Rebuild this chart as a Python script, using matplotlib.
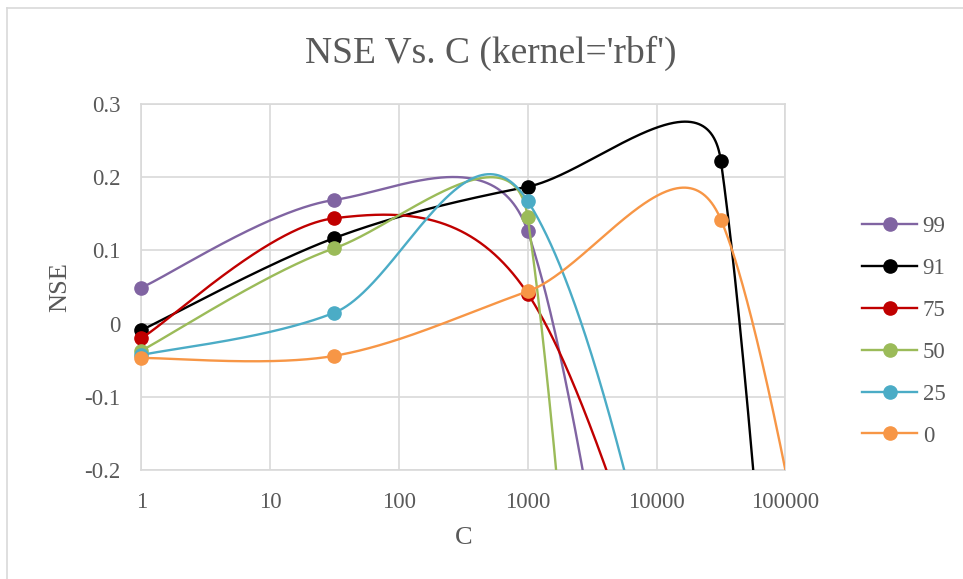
import numpy as np
import matplotlib
matplotlib.use("Agg")
import matplotlib.pyplot as plt
from matplotlib.lines import Line2D
from matplotlib.ticker import FixedLocator, NullLocator

plt.rcParams['font.family'] = ['Liberation Serif', 'DejaVu Serif']

# C values (10^0 .. 10^6, steps of 10^1.5); points past 1e5 / below -0.2 run off the chart
C = [1, 31.62, 1000, 31623, 1000000]
nse_99 = [0.049, 0.169, 0.126, -1.38, -2.75]
nse_91 = [-0.009, 0.117, 0.187, 0.222, -3.58]
nse_75 = [-0.020, 0.144, 0.041, -0.65, -1.31]
nse_50 = [-0.037, 0.103, 0.145, -3.55, -7.1]
nse_25 = [-0.043, 0.015, 0.1675, -0.80, -2.5]
nse_0 = [-0.047, -0.044, 0.044, 0.142, -1.20]

labels = ["99", "91", "75", "50", "25", "0"]
colors = ["#8064A2", "#000000", "#C00000", "#9BBB59", "#4BACC6", "#F79646"]
series = [nse_99, nse_91, nse_75, nse_50, nse_25, nse_0]

x_ticks = [1, 10, 100, 1000, 10000, 100000]
x_ticklabels = ["1", "10", "100", "1000", "10000", "100000"]
y_ticks = [-0.2, -0.1, 0, 0.1, 0.2, 0.3]
y_ticklabels = ["-0.2", "-0.1", "0", "0.1", "0.2", "0.3"]

TXT = "#595959"
GRID = "#D9D9D9"
W, H = 963, 579


def excel_smooth(ax, xs, ys, steps=400):
    # Excel-like smoothed line: Catmull-Rom Bezier in screen space,
    # control arm capped at half the segment length
    pts = ax.transData.transform(np.column_stack([xs, ys]))
    n = len(pts)
    t = np.linspace(0, 1, steps)[1:, None]
    curve = [pts[:1]]
    for i in range(n - 1):
        p0, p1 = pts[max(i - 1, 0)], pts[i]
        p2, p3 = pts[i + 1], pts[min(i + 2, n - 1)]
        half = np.hypot(*(p2 - p1)) / 2
        d1 = (p2 - p0) / 6
        d2 = (p3 - p1) / 6
        for d in (d1, d2):
            L = np.hypot(*d)
            if L > half:
                d *= half / L
        c1, c2 = p1 + d1, p2 - d2
        seg = ((1 - t)**3 * p1 + 3 * (1 - t)**2 * t * c1
               + 3 * (1 - t) * t**2 * c2 + t**3 * p2)
        curve.append(seg)
    return ax.transData.inverted().transform(np.vstack(curve))


fig = plt.figure(figsize=(W / 100, H / 100), dpi=100)
ax = fig.add_axes([141.3 / W, 1 - 470 / H, 644 / W, 366 / H])
ax.set_xscale("log")
ax.set_xlim(1, 100000)
ax.set_ylim(-0.2, 0.3)

ax.xaxis.set_major_locator(FixedLocator(x_ticks))
ax.xaxis.set_minor_locator(NullLocator())
ax.set_xticklabels(x_ticklabels)
ax.set_yticks(y_ticks)
ax.set_yticklabels(y_ticklabels)
ax.tick_params(length=0, labelsize=16.5, labelcolor=TXT)
ax.tick_params(axis="y", pad=15)
ax.tick_params(axis="x", pad=15.5)

ax.grid(True, color=GRID, lw=1.2, zorder=0)
ax.set_axisbelow(True)
for s in ax.spines.values():
    s.set_color(GRID)
    s.set_linewidth(1.2)
ax.axhline(0, color="#BFBFBF", lw=1.2, zorder=1)

handles = []
for k, (ys, col, lab) in enumerate(zip(series, colors, labels)):
    sm = excel_smooth(ax, C, ys)
    ax.plot(sm[:, 0], sm[:, 1], color=col, lw=1.7, zorder=3 + k,
            solid_capstyle="round")
    ax.plot(C, ys, ls="none", marker="o", ms=9.5, color=col,
            zorder=3.5 + k, clip_on=False)
    handles.append(Line2D([], [], color=col, lw=1.7, marker="o", ms=9.5))

ax.set_xlim(1, 100000)
ax.set_ylim(-0.2, 0.3)

ax.set_xlabel("C", fontsize=19, color=TXT)
ax.xaxis.set_label_coords(0.5, -0.185)
ax.xaxis.label.set_va("center")
ax.set_ylabel("NSE", fontsize=19, color=TXT)
ax.yaxis.set_label_coords(-0.1252, 0.5)
ax.yaxis.label.set_va("center")
ax.yaxis.label.set_ha("center")

fig.text(490.5 / W, 1 - 63.3 / H, "NSE Vs. C (kernel='rbf')", fontsize=27,
         color=TXT, ha="center", va="baseline")

ax.legend(handles, labels, loc="upper left",
          bbox_to_anchor=(862 / W, 1 - 216 / H), bbox_transform=fig.transFigure,
          frameon=False, borderaxespad=0, borderpad=0, handlelength=2.4,
          handletextpad=0.25, labelspacing=0.91, fontsize=16.5, labelcolor=TXT)

# chart area border (left and top edges visible in the crop)
fig.add_artist(Line2D([6.5 / W, 6.5 / W], [0, 1 - 7.5 / H], color=GRID, lw=1.2))
fig.add_artist(Line2D([6.5 / W, 1], [1 - 7.5 / H, 1 - 7.5 / H], color=GRID, lw=1.2))

fig.savefig("out.png", dpi=100)
